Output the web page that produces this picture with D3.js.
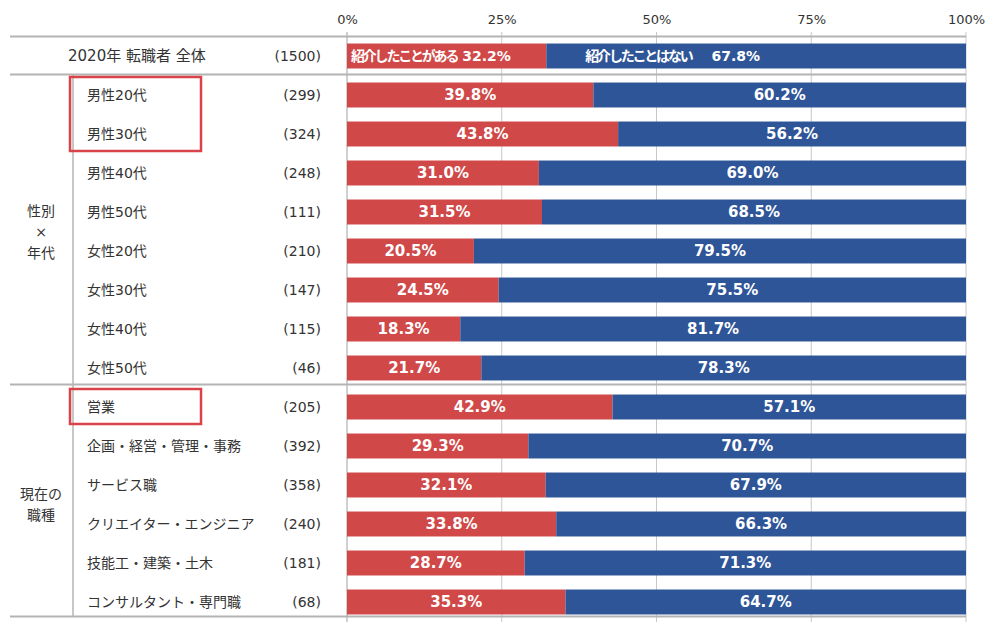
<!DOCTYPE html>
<html><head><meta charset="utf-8">
<script src="https://cdn.jsdelivr.net/npm/d3@7"></script>
<style>
html,body{margin:0;padding:0;background:#fff;}
svg{display:block;font-family:"DejaVu Sans","Noto Sans CJK JP",sans-serif;}
</style></head>
<body>
<svg id="chart" width="1006" height="630"></svg>
<script>
const categories = ["2020年 転職者 全体","男性20代","男性30代","男性40代","男性50代","女性20代","女性30代","女性40代","女性50代","営業","企画・経営・管理・事務","サービス職","クリエイター・エンジニア","技能工・建築・土木","コンサルタント・専門職"];
const counts = [1500,299,324,248,111,210,147,115,46,205,392,358,240,181,68];
const yesValues = [32.2,39.8,43.8,31.0,31.5,20.5,24.5,18.3,21.7,42.9,29.3,32.1,33.8,28.7,35.3];
const noValues = [67.8,60.2,56.2,69.0,68.5,79.5,75.5,81.7,78.3,57.1,70.7,67.9,66.3,71.3,64.7];
const seriesNames = ["紹介したことがある","紹介したことはない"];
const tickValues = [0,25,50,75,100];
const groupLabels = [["性別","×","年代"],["現在の","職種"]];
const groupRanges = [[1,8],[9,14]];
const highlightRanges = [[1,2],[9,9]];

const RED = "#d04848", BLUE = "#2e5597";
const svg = d3.select("#chart");
const x = d3.scaleLinear().domain([0,100]).range([347,966]).clamp(true);
const y = d3.scaleBand().domain(categories).range([36.5,621.5]).paddingInner(0.36).paddingOuter(0.18);
const bw = y.bandwidth();
const cy = c => y(c) + bw/2;

// gridlines
svg.append("g").selectAll("line").data(tickValues).join("line")
  .attr("x1", d => x(d)).attr("x2", d => x(d))
  .attr("y1", 32).attr("y2", 622)
  .attr("stroke", d => d === 0 ? "#a0a0a0" : "#c8c8c8").attr("stroke-width", 1);

// top axis labels
const axis = d3.axisTop(x).tickValues(tickValues).tickFormat(d => d + "%").tickSize(0).tickPadding(0);
const ag = svg.append("g").attr("transform", "translate(0,24)").call(axis);
ag.select(".domain").remove();
ag.selectAll("text").attr("font-size", 13).attr("fill", "#333").attr("font-family", "DejaVu Sans, Noto Sans CJK JP, sans-serif");

// horizontal separators
const sepYs = [y(categories[0]) - 7, y(categories[1]) - 8, y(categories[groupRanges[1][0]]) - 10, y(categories[categories.length-1]) + bw + 2];
svg.append("g").selectAll("line").data(sepYs).join("line")
  .attr("x1", 10).attr("x2", 966).attr("y1", d => d).attr("y2", d => d)
  .attr("stroke", "#b4b4b4").attr("stroke-width", 2);

// vertical line separating group labels
svg.append("line").attr("x1", 73).attr("x2", 73)
  .attr("y1", sepYs[1]).attr("y2", sepYs[3]).attr("stroke", "#b4b4b4").attr("stroke-width", 1.5);

// bars
const rows = categories.map((c,i) => ({c, i, yes: yesValues[i], no: noValues[i]}));
const bars = svg.append("g");
bars.selectAll("rect.yes").data(rows).join("rect").attr("class","yes")
  .attr("x", x(0)).attr("y", d => y(d.c)).attr("height", bw)
  .attr("width", d => x(d.yes) - x(0)).attr("fill", RED);
bars.selectAll("rect.no").data(rows).join("rect").attr("class","no")
  .attr("x", d => x(d.yes)).attr("y", d => y(d.c)).attr("height", bw)
  .attr("width", d => x(d.yes + d.no) - x(d.yes)).attr("fill", BLUE);

// bar labels
const lab = svg.append("g").attr("fill", "#fff").attr("font-weight", "bold");
rows.slice(1).forEach(d => {
  lab.append("text").attr("x", (x(0) + x(d.yes))/2).attr("y", cy(d.c)).attr("dy", "0.36em")
    .attr("text-anchor", "middle").attr("font-size", 15).text(d.yes.toFixed(1) + "%");
  lab.append("text").attr("x", (x(d.yes) + x(d.yes + d.no))/2).attr("y", cy(d.c)).attr("dy", "0.36em")
    .attr("text-anchor", "middle").attr("font-size", 15).text(d.no.toFixed(1) + "%");
});
const r0 = rows[0];
const t1 = lab.append("text").attr("x", x(0) + 4).attr("y", cy(r0.c)).attr("dy", "0.36em").attr("font-size", 14);
t1.append("tspan").attr("letter-spacing", -2.2).text(seriesNames[0]);
t1.append("tspan").attr("dx", 5).text(r0.yes.toFixed(1) + "%");
const t2 = lab.append("text").attr("x", x(r0.yes) + 39).attr("y", cy(r0.c)).attr("dy", "0.36em").attr("font-size", 14);
t2.append("tspan").attr("letter-spacing", -2.2).text(seriesNames[1]);
t2.append("tspan").attr("dx", 20).text(r0.no.toFixed(1) + "%");

// row labels and counts
const tg = svg.append("g").attr("fill", "#333").attr("font-size", 14);
rows.forEach(d => {
  tg.append("text").attr("x", d.i === 0 ? 68 : 87).attr("y", cy(d.c)).attr("dy", "0.36em")
    .attr("font-size", d.i === 0 ? 15 : 14).text(d.c);
  tg.append("text").attr("x", 321).attr("y", cy(d.c)).attr("dy", "0.36em")
    .attr("text-anchor", "end").text("(" + counts[d.i] + ")");
});

// group labels
groupLabels.forEach((lines, gi) => {
  const [a,b] = groupRanges[gi];
  const mid = (cy(categories[a]) + cy(categories[b]))/2;
  const lh = 21;
  const t = tg.append("text").attr("text-anchor", "middle");
  lines.forEach((ln, k) => {
    t.append("tspan").attr("x", 41)
      .attr("y", mid + (k - (lines.length-1)/2) * lh).attr("dy", "0.36em").text(ln);
  });
});

// highlight boxes
svg.append("g").selectAll("rect").data(highlightRanges).join("rect")
  .attr("x", 70).attr("width", 131)
  .attr("y", d => cy(categories[d[0]]) - 18)
  .attr("height", d => cy(categories[d[1]]) + 17 - (cy(categories[d[0]]) - 18))
  .attr("fill", "none").attr("stroke", "#d9434a").attr("stroke-width", 2.5);
</script>
</body></html>
